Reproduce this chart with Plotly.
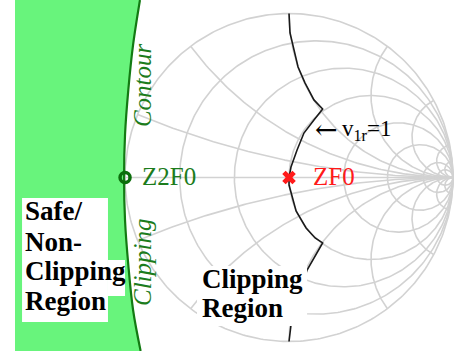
import numpy as np
import plotly.graph_objects as go

# Smith chart grid values (normalised impedance)
resistance_values = [0.2, 0.5, 1, 2, 4, 10, 20]
reactance_values = [0.2, 0.5, 1, 2, 4, 10, 20]

# Clipping contour through Z2F0, in reflection-coefficient coordinates
contour_re = [-0.909, -0.951, -0.980, -1.000, -1.006, -1.000, -0.980, -0.951, -0.905]
contour_im = [1.082, 0.808, 0.534, 0.262, 0.000, -0.262, -0.534, -0.808, -1.058]

# v1r = 1 locus through ZF0
v1r_re = [0.000, 0.006, 0.055, 0.098, 0.152, 0.205, 0.152, 0.091, 0.049, 0.012, 0.000,
          0.000, 0.043, 0.104, 0.159, 0.205, 0.110, 0.055, 0.012, 0.000]
v1r_im = [1.000, 0.881, 0.674, 0.576, 0.473, 0.418, 0.351, 0.271, 0.168, 0.064, 0.000,
          -0.046, -0.204, -0.308, -0.369, -0.399, -0.564, -0.735, -0.899, -1.000]

zf0 = (0.0, 0.0)
z2f0 = (-1.0, 0.0)

X_RANGE = [-1.671, 1.006]
Y_RANGE = [-1.058, 1.0823]

GRID = "#d2d2d2"
GREEN_FILL = "#68F47C"
DARK_GREEN = "#137a13"
TEXT_GREEN = "#1c7c1c"
RED = "#ff1a1a"
SERIF = "Liberation Serif"


def grid_paths():
    gx, gy = [], []
    t = np.linspace(0, 2 * np.pi, 361)
    # outer circle
    gx += list(np.cos(t)) + [None]
    gy += list(np.sin(t)) + [None]
    # real axis
    gx += [-1, 1, None]
    gy += [0, 0, None]
    # constant-resistance circles
    for r in resistance_values:
        c, rad = r / (r + 1), 1 / (r + 1)
        gx += list(c + rad * np.cos(t)) + [None]
        gy += list(rad * np.sin(t)) + [None]
    # constant-reactance arcs
    rr = np.concatenate([np.linspace(0, 1, 60), np.logspace(0, 3.5, 200)])
    for x in reactance_values:
        for s in (1, -1):
            z = rr + 1j * s * x
            g = (z - 1) / (z + 1)
            gx += list(g.real) + [None]
            gy += list(g.imag) + [None]
    return gx, gy


fig = go.Figure()

gx, gy = grid_paths()
fig.add_trace(go.Scatter(x=gx, y=gy, mode="lines",
                         line=dict(color=GRID, width=1.6), hoverinfo="skip"))

# safe / non-clipping region to the left of the contour
fig.add_trace(go.Scatter(
    x=[X_RANGE[0]] + contour_re + [X_RANGE[0]],
    y=[Y_RANGE[1]] + contour_im + [Y_RANGE[0]],
    mode="lines", fill="toself", fillcolor=GREEN_FILL,
    line=dict(width=0), hoverinfo="skip"))
fig.add_trace(go.Scatter(x=contour_re, y=contour_im, mode="lines",
                         line=dict(color=DARK_GREEN, width=2.2, shape="spline")))

fig.add_trace(go.Scatter(x=v1r_re, y=v1r_im, mode="lines",
                         line=dict(color="#1a1a1a", width=1.6)))

fig.add_trace(go.Scatter(x=[zf0[0]], y=[zf0[1]], mode="markers",
                         marker=dict(symbol="x", size=12, color=RED,
                                     line=dict(width=0))))
fig.add_trace(go.Scatter(x=[z2f0[0]], y=[z2f0[1]], mode="markers",
                         marker=dict(symbol="circle-open", size=10,
                                     color="#0b6e0b", line=dict(width=3.5))))

# white backing behind the region labels
box = dict(type="rect", xref="x", yref="y", fillcolor="white",
           line=dict(width=0), layer="above")
fig.add_shape(x0=-1.628, x1=-1.104, y0=-0.125, y1=-0.881, **box)
fig.add_shape(x0=-1.104, x1=-1.0, y0=-0.503, y1=-0.7225, **box)
fig.add_shape(x0=-0.561, x1=0.110, y0=-0.540, y1=-0.905, **box)


def label(text, x, y, size, color="black", xanchor="left", family=SERIF, **kw):
    fig.add_annotation(x=x, y=y, xref="x", yref="y", text=text, showarrow=False,
                       xanchor=xanchor, yanchor="middle",
                       font=dict(family=family, size=size, color=color), **kw)


label("Z2F0", -0.909, 0.006, 25, TEXT_GREEN)
label("ZF0", 0.134, 0.006, 25, RED)
label("\u2190", 0.148, 0.295, 27, family="DejaVu Serif")
label("v<sub>1r</sub>=1", 0.31, 0.29, 23)
label("<i>Contour</i>", -0.896, 0.564, 25, TEXT_GREEN, xanchor="center", textangle=-90)
label("<i>Clipping</i>", -0.890, -0.515, 25, TEXT_GREEN, xanchor="center", textangle=-90)

for txt, yy in [("Safe/", -0.207), ("Non-", -0.396), ("Clipping", -0.573), ("Region", -0.756)]:
    label(f"<b>{txt}</b>", -1.622, yy, 27)
for txt, yy in [("Clipping", -0.619), ("Region", -0.796)]:
    label(f"<b>{txt}</b>", -0.543, yy, 27)

fig.update_layout(
    width=454, height=357,
    margin=dict(l=15, r=0, t=0, b=6),
    paper_bgcolor="white", plot_bgcolor="white",
    showlegend=False,
    font=dict(family=SERIF),
    xaxis=dict(range=X_RANGE, visible=False, fixedrange=True),
    yaxis=dict(range=Y_RANGE, visible=False, fixedrange=True),
)

fig.write_html("out.html")
